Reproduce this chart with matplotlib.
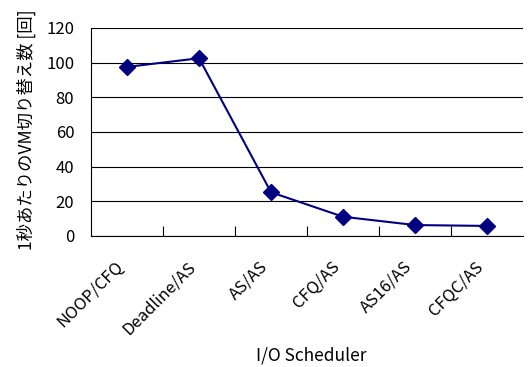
import matplotlib

matplotlib.use("Agg")
import matplotlib.pyplot as plt
import matplotlib.transforms as mtransforms
import numpy as np

plt.rcParams["font.family"] = ["Noto Sans CJK JP", "DejaVu Sans"]

schedulers = ["NOOP/CFQ", "Deadline/AS", "AS/AS", "CFQ/AS", "AS16/AS", "CFQC/AS"]
switches = [97.5, 102.5, 25.2, 11.1, 6.3, 5.8]
y_ticks = [0, 20, 40, 60, 80, 100, 120]

fig = plt.figure(figsize=(5.31, 3.67), dpi=100)
ax = fig.add_axes([0.1714, 0.357, 0.8136, 0.567])

x = np.arange(len(schedulers))
ax.plot(x, switches, color="#000080", linewidth=1.5, marker="D",
        markersize=8.5, markerfacecolor="#000080", markeredgecolor="#000080",
        zorder=3)

ax.set_xlim(-0.5, len(schedulers) - 0.5)
ax.set_ylim(0, 120)
ax.set_yticks(y_ticks)
ax.yaxis.grid(True, color="black", linewidth=0.8)
ax.set_axisbelow(True)

# category labels sit between the divider ticks
ax.set_xticks(x)
ax.set_xticklabels(schedulers, rotation=45, ha="right", va="top",
                   rotation_mode="anchor", fontsize=12)
ax.tick_params(axis="x", which="major", length=0, pad=16)
shift = mtransforms.ScaledTranslation(-12 / 100, 0, fig.dpi_scale_trans)
for lbl in ax.get_xticklabels():
    lbl.set_transform(lbl.get_transform() + shift)
ax.set_xticks(x[:-1] + 0.5, minor=True)
ax.tick_params(axis="x", which="minor", direction="in", length=7,
               width=0.8, color="black")
ax.tick_params(axis="y", length=0, labelsize=12, pad=12)

for side in ("top", "right"):
    ax.spines[side].set_visible(False)
for side in ("left", "bottom"):
    ax.spines[side].set_color("black")
    ax.spines[side].set_linewidth(0.8)

ax.set_ylabel("1秒あたりのVM切り替え数 [回]", fontsize=12.5)
ax.yaxis.set_label_coords(-0.127, 0.51)
ax.set_xlabel("I/O Scheduler", fontsize=12.5)
ax.xaxis.set_label_coords(0.51, -0.53)

fig.savefig("out.png", dpi=100)
